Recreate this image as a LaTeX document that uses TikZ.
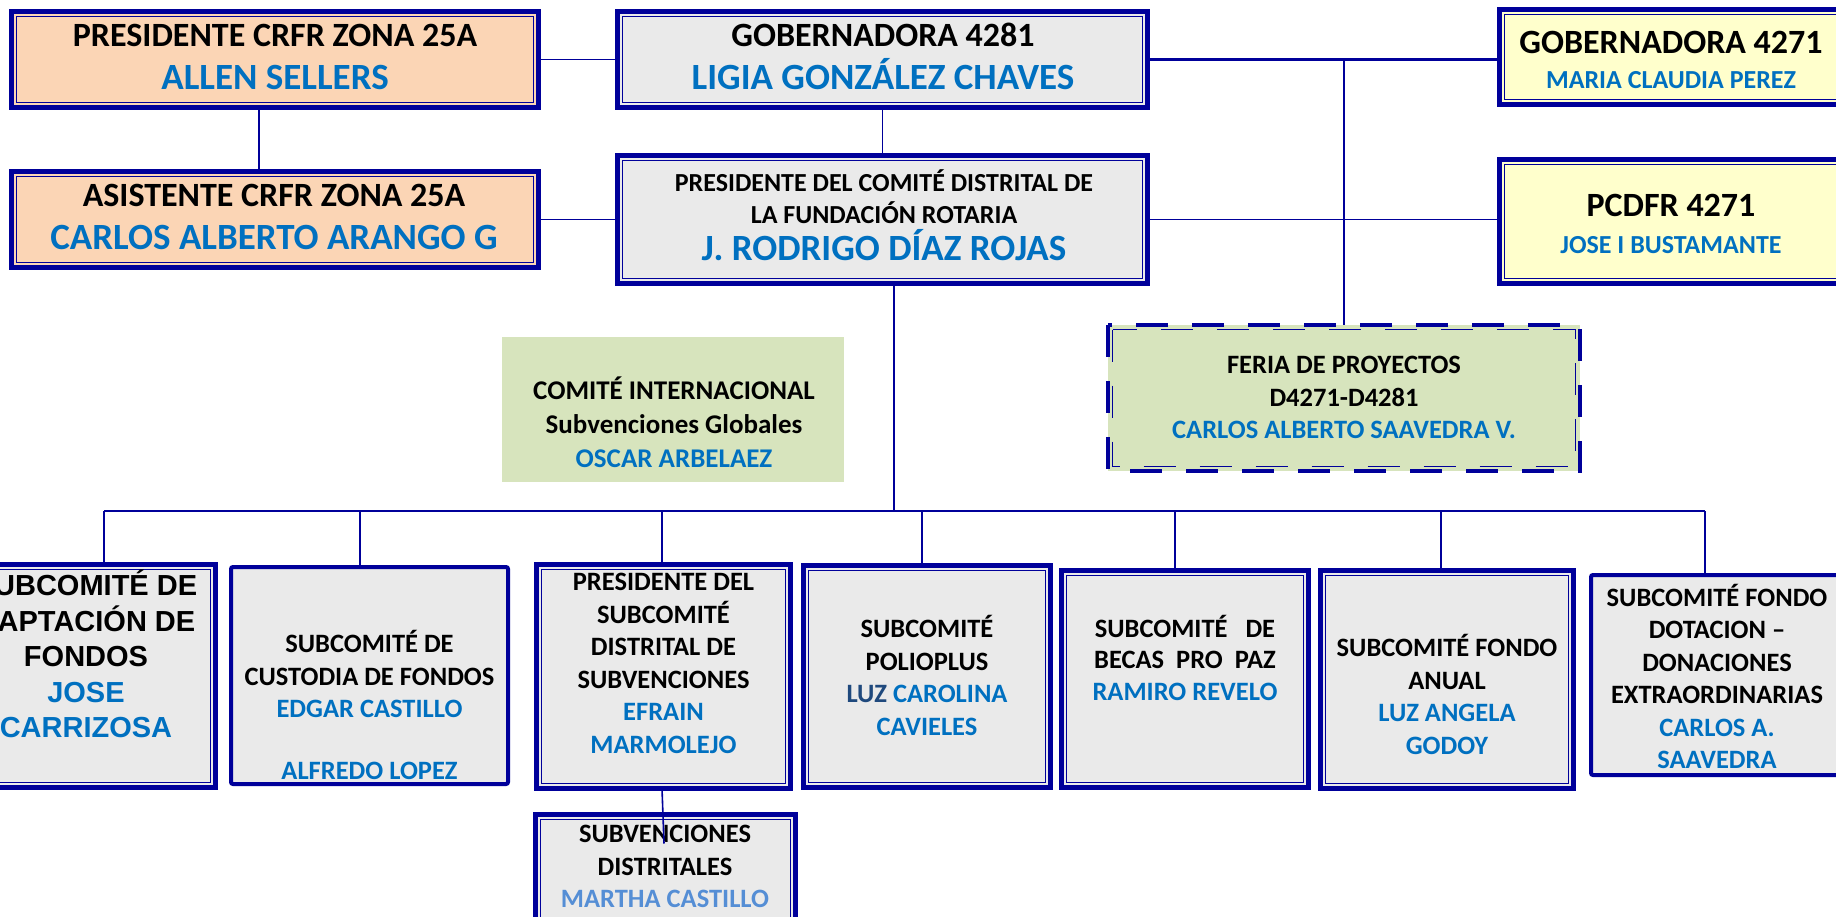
\documentclass[tikz,border=0pt]{standalone}
\usepackage{fontspec}
\setmainfont{Carlito}
\newfontfamily\arialFont{Liberation Sans}

\definecolor{navyLine}{HTML}{00009A}
\definecolor{peachFill}{HTML}{FBD5B5}
\definecolor{grayFill}{HTML}{EAEAEA}
\definecolor{creamFill}{HTML}{FFFFCC}
\definecolor{sageFill}{HTML}{D7E4BD}
\definecolor{personBlue}{HTML}{0070C0}
\definecolor{deepBlue}{HTML}{1F497D}
\definecolor{paleBlue}{HTML}{558ED5}

\newcommand{\person}[1]{{\color{personBlue}#1}}
\newcommand{\bigPerson}[1]{{\fontsize{37}{43}\selectfont\color{personBlue}#1}}

\begin{document}
\begin{tikzpicture}[x=1pt, y=-1pt,
    frameBox/.style={rectangle, draw=navyLine, line width=5pt, outer sep=0pt, inner sep=0pt},
    peachBox/.style={frameBox, fill=peachFill},
    grayBox/.style={frameBox, fill=grayFill},
    creamBox/.style={frameBox, fill=creamFill},
    roundBox/.style={rectangle, draw=navyLine, line width=4pt, rounded corners=2pt, fill=grayFill, outer sep=0pt},
    sageBox/.style={rectangle, fill=sageFill, outer sep=0pt},
    innerFrame/.style={draw=navyLine, line width=1.1pt},
    dashFrame/.style={draw=navyLine, dash pattern=on 32pt off 24pt},
    linkLine/.style={draw=navyLine, line width=1.6pt},
    headText/.style={align=center, inner sep=0pt, font=\bfseries\fontsize{34}{43}\selectfont},
    boxText/.style={align=center, inner sep=0pt, font=\bfseries\fontsize{26.5}{32.5}\selectfont}]
    \useasboundingbox (0,0) rectangle (1836,916);

    % top rows
    \node[peachBox, minimum width=527pt, minimum height=96pt]  (crfrPres)  at (275, 59.5)   {};
    \node[peachBox, minimum width=527pt, minimum height=96pt]  (crfrAsis)  at (275, 219.5)  {};
    \node[grayBox,  minimum width=530pt, minimum height=96pt]  (gob4281)   at (882.5, 59.5) {};
    \node[grayBox,  minimum width=530pt, minimum height=128pt] (pcdfr4281) at (882.5, 219.5){};
    \node[creamBox, minimum width=343pt, minimum height=95pt]  (gob4271)   at (1671, 57)    {};
    \node[creamBox, minimum width=343pt, minimum height=124pt] (pcdfr4271) at (1671, 221.5) {};

    \node[sageBox, minimum width=342pt, minimum height=145pt] (intl)  at (673, 409.5) {};
    \node[sageBox, minimum width=472pt, minimum height=146pt] (feria) at (1344, 398)  {};
    \draw[dashFrame, line width=4pt] (feria.north west) rectangle (feria.south east);
    \draw[dashFrame, line width=1.1pt] ([shift={(4.5pt,-4.5pt)}]feria.north west) rectangle ([shift={(-4.5pt,4.5pt)}]feria.south east);

    % subcommittees
    \node[grayBox,  minimum width=259pt, minimum height=223pt] (captacion)   at (86, 676)      {};
    \node[roundBox, minimum width=277pt, minimum height=217pt] (custodia)    at (369.5, 675.5) {};
    \node[grayBox,  minimum width=254pt, minimum height=224pt] (subvenc)     at (663.5, 676.5) {};
    \node[grayBox,  minimum width=260pt, minimum height=118pt] (distritales) at (665.5, 873.5) {};
    \node[grayBox,  minimum width=247pt, minimum height=222pt] (polio)       at (927, 676.5)   {};
    \node[grayBox,  minimum width=247pt, minimum height=217pt] (becas)       at (1185, 679)    {};
    \node[grayBox,  minimum width=253pt, minimum height=218pt] (anual)       at (1447, 679.5)  {};
    \node[roundBox, minimum width=252pt, minimum height=200pt] (dotacion)    at (1717, 675)    {};

    \foreach \n in {crfrPres, crfrAsis, gob4281, pcdfr4281, gob4271, pcdfr4271, captacion, subvenc, distritales, polio, becas, anual}
        \draw[innerFrame] ([shift={(5pt,-5pt)}]\n.north west) rectangle ([shift={(-5pt,5pt)}]\n.south east);

    % texts
    \node[headText] (crfrPresTxt)  at (275, 56.5)  {PRESIDENTE CRFR ZONA 25A\\\bigPerson{ALLEN SELLERS}};
    \node[headText] (crfrAsisTxt)  at (274, 216.5) {ASISTENTE CRFR ZONA 25A\\\bigPerson{CARLOS ALBERTO ARANGO G}};
    \node[headText] (gob4281Txt)   at (883, 56.5)  {GOBERNADORA 4281\\\bigPerson{LIGIA GONZÁLEZ CHAVES}};
    \node[boxText, font=\bfseries\fontsize{26}{32}\selectfont] (pcdfr4281Txt) at (884, 215)
        {PRESIDENTE DEL COMITÉ DISTRITAL DE\\LA FUNDACIÓN ROTARIA\\[5pt]\bigPerson{J. RODRIGO DÍAZ ROJAS}};
    \node[headText, font=\bfseries\fontsize{34}{35}\selectfont] (gob4271Txt) at (1671, 59.5)
        {GOBERNADORA 4271\\{\fontsize{26}{35}\selectfont\person{MARIA CLAUDIA PEREZ}}};
    \node[headText, font=\bfseries\fontsize{34}{37}\selectfont] (pcdfr4271Txt) at (1671, 223.5)
        {PCDFR 4271\\{\fontsize{26}{37}\selectfont\person{JOSE I BUSTAMANTE}}};
    \node[boxText, font=\bfseries\fontsize{27}{34}\selectfont] (intlTxt) at (674, 422.5)
        {COMITÉ INTERNACIONAL\\Subvenciones Globales\\\person{OSCAR ARBELAEZ}};
    \node[boxText] (feriaTxt) at (1344, 397.5) {FERIA DE PROYECTOS\\D4271-D4281\\\person{CARLOS ALBERTO SAAVEDRA V.}};

    \node[boxText, font=\arialFont\bfseries\fontsize{29}{35.5}\selectfont] (captacionTxt) at (86, 654)
        {SUBCOMITÉ DE\\CAPTACIÓN DE\\FONDOS\\\person{JOSE}\\\person{CARRIZOSA}};
    \node[boxText] (custodiaTxt)    at (369.5, 705)   {SUBCOMITÉ DE\\CUSTODIA DE FONDOS\\\person{EDGAR CASTILLO}\\[29pt]\person{ALFREDO LOPEZ}};
    \node[boxText] (subvencTxt)     at (663.5, 663.5) {PRESIDENTE DEL\\SUBCOMITÉ\\DISTRITAL DE\\SUBVENCIONES\\\person{EFRAIN}\\\person{MARMOLEJO}};
    \node[boxText] (distritalesTxt) at (665, 866.5)   {SUBVENCIONES\\DISTRITALES\\{\color{paleBlue}MARTHA CASTILLO}};
    \node[boxText] (polioTxt)       at (927, 675.5)   {SUBCOMITÉ\\POLIOPLUS\\{\color{deepBlue}LUZ} \person{CAROLINA}\\\person{CAVIELES}};
    \node[boxText, font=\bfseries\fontsize{26.5}{31.5}\selectfont] (becasTxt) at (1185, 657.5)
        {SUBCOMITÉ\ \ \ DE\\BECAS\ \ PRO\ \ PAZ\\\person{RAMIRO REVELO}};
    \node[boxText] (anualTxt)       at (1447, 694.5)  {SUBCOMITÉ FONDO\\ANUAL\\\person{LUZ ANGELA}\\\person{GODOY}};
    \node[boxText] (dotacionTxt)    at (1717, 676.5)  {SUBCOMITÉ FONDO\\DOTACION –\\DONACIONES\\EXTRAORDINARIAS\\\person{CARLOS A.}\\\person{SAAVEDRA}};

    % connectors
    \coordinate (busLeft)  at (104, 511);
    \coordinate (busRight) at (1705, 511);

    \draw[linkLine] ([xshift=-16pt]crfrPres.south) -- ([xshift=-16pt]crfrAsis.north);
    \draw[linkLine] (crfrPres.east) -- (gob4281.west);
    \draw[linkLine] (crfrAsis.east) -- (pcdfr4281.west);
    \draw[linkLine] (gob4281.south) -- (pcdfr4281.north);
    \draw[linkLine, line width=2.6pt] (gob4281.east) -- (gob4281.east -| gob4271.west);
    \draw[linkLine] (feria.north |- gob4281.east) -- (feria.north);
    \draw[linkLine] (pcdfr4281.east) -- (pcdfr4281.east -| pcdfr4271.west);
    \draw[linkLine] ([xshift=11.5pt]pcdfr4281.south) -- ([xshift=11.5pt]pcdfr4281.south |- busLeft);
    \draw[linkLine] (busLeft) -- (busRight);
    \foreach \n/\dx in {captacion/18, custodia/-9.5, subvenc/-1.5, polio/-5, becas/-10, anual/-6, dotacion/-12}
        \draw[linkLine] ([xshift=\dx pt]\n.north |- busLeft) -- ([xshift=\dx pt]\n.north);
    \draw[linkLine] ([xshift=-1.5pt]subvenc.south) -- ([xshift=-1.5pt, yshift=-29pt]distritales.north);
\end{tikzpicture}
\end{document}
